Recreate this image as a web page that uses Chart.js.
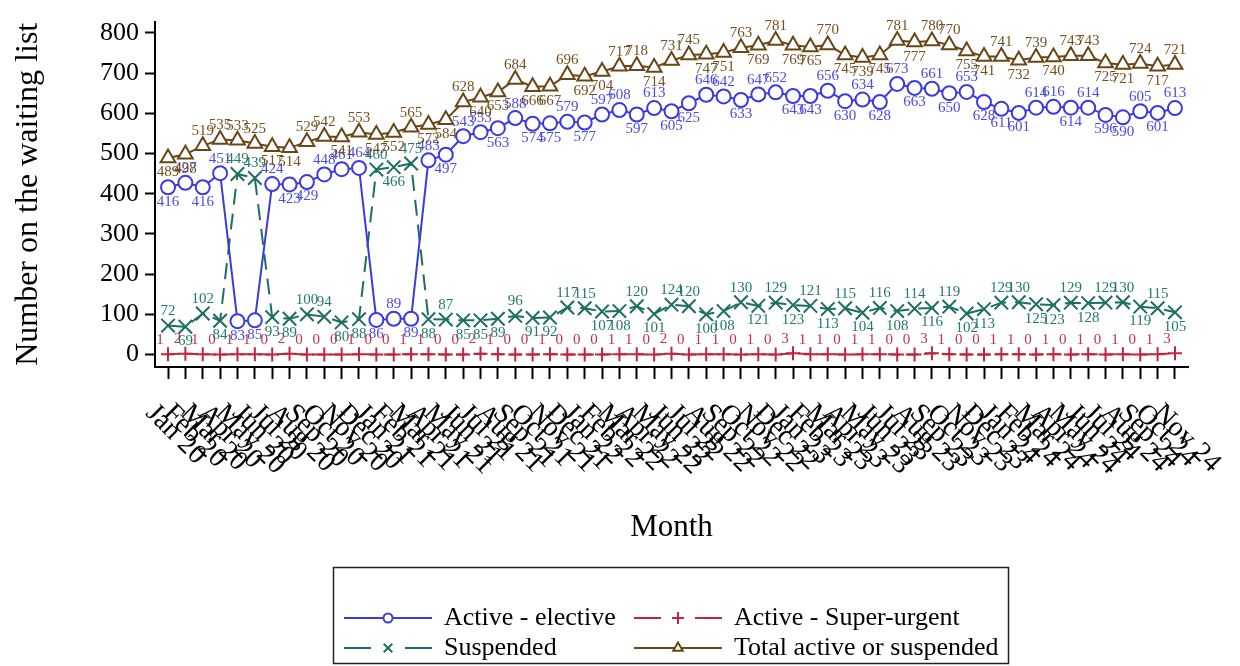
<!DOCTYPE html>
<html>
<head>
<meta charset="utf-8">
<script src="https://cdn.jsdelivr.net/npm/chart.js@4.4.0/dist/chart.umd.min.js"></script>
<style>
  html, body { margin: 0; padding: 0; background: #fff; }
  #wrap { width: 1240px; height: 666px; }
</style>
</head>
<body>
<div id="wrap"><canvas id="waitingList" width="1240" height="666"></canvas></div>
<script>
// month ticks: Jan 2020 .. Nov 2024
const monthNames = ['Jan', 'Feb', 'Mar', 'Apr', 'May', 'Jun', 'Jul', 'Aug', 'Sep', 'Oct', 'Nov', 'Dec'];
const years = ['20', '21', '22', '23', '24'];

const activeElective = [
  416, 427, 416, 451, 83, 85, 424, 423, 429, 448,
  461, 464, 86, 89, 89, 483, 497, 543, 553, 563,
  588, 574, 575, 579, 577, 597, 608, 597, 613, 605,
  625, 646, 642, 633, 647, 652, 643, 643, 656, 630,
  634, 628, 673, 663, 661, 650, 653, 628, 611, 601,
  614, 616, 614, 614, 596, 590, 605, 601, 613
];
const superUrgent = [
  1, 2, 1, 0, 1, 1, 0, 2, 0, 0,
  0, 1, 0, 0, 1, 1, 0, 0, 2, 1,
  0, 0, 1, 0, 0, 0, 1, 1, 0, 2,
  0, 1, 1, 0, 1, 0, 3, 1, 1, 0,
  1, 1, 0, 0, 3, 1, 0, 0, 1, 1,
  0, 1, 0, 1, 0, 1, 0, 1, 3
];
const suspended = [
  72, 69, 102, 84, 449, 439, 93, 89, 100, 94,
  80, 88, 460, 466, 475, 88, 87, 85, 85, 89,
  96, 91, 92, 117, 115, 107, 108, 120, 101, 124,
  120, 100, 108, 130, 121, 129, 123, 121, 113, 115,
  104, 116, 108, 114, 116, 119, 102, 113, 129, 130,
  125, 123, 129, 128, 129, 130, 119, 115, 105
];
const totalActiveSuspended = [
  489, 498, 519, 535, 533, 525, 517, 514, 529, 542,
  541, 553, 547, 552, 565, 572, 584, 628, 640, 653,
  684, 666, 667, 696, 692, 704, 717, 718, 714, 731,
  745, 747, 751, 763, 769, 781, 769, 765, 770, 745,
  739, 745, 781, 777, 780, 770, 755, 741, 741, 732,
  739, 740, 743, 743, 725, 721, 724, 717, 721
];
const yTicks = [0, 100, 200, 300, 400, 500, 600, 700, 800];

const monthLabels = [];
years.forEach(y => monthNames.forEach(m => monthLabels.push(m + ' ' + y)));
monthLabels.length = activeElective.length;

const serif = '"Liberation Serif", "DejaVu Serif", serif';
const toXY = arr => arr.map((v, i) => ({ x: i, y: v }));

// text labels next to every marker, above on peaks and below in dips
const pointLabels = {
  id: 'pointLabels',
  afterDatasetsDraw(chart) {
    const ctx = chart.ctx;
    chart.data.datasets.forEach((ds, di) => {
      const meta = chart.getDatasetMeta(di);
      const vals = ds.data.map(d => d.y);
      ctx.save();
      ctx.font = '15px ' + serif;
      ctx.fillStyle = ds.labelColor;
      ctx.textAlign = 'center';
      meta.data.forEach((pt, i) => {
        const v = vals[i];
        let above = true;
        if (!ds.labelAbove) {
          const prev = i > 0 ? vals[i - 1] : v;
          const next = i < vals.length - 1 ? vals[i + 1] : v;
          above = v >= (prev + next) / 2;
        }
        ctx.textBaseline = above ? 'bottom' : 'top';
        ctx.fillText(String(v), pt.x + (ds.labelShift || 0), above ? pt.y - 7 : pt.y + 7);
      });
      ctx.restore();
    });
  }
};

// slanted month labels, titles and the legend box
const decorations = {
  id: 'decorations',
  afterDraw(chart) {
    const ctx = chart.ctx;
    const xs = chart.scales.x;
    const area = chart.chartArea;

    ctx.save();
    ctx.fillStyle = '#000';
    ctx.font = '28px ' + serif;
    ctx.textAlign = 'left';
    ctx.textBaseline = 'middle';
    monthLabels.forEach((lab, i) => {
      ctx.save();
      ctx.translate(xs.getPixelForValue(i) - 18, 409);
      ctx.rotate(Math.PI / 4);
      ctx.fillText(lab, 0, 0);
      ctx.restore();
    });

    ctx.font = '31px ' + serif;
    ctx.textAlign = 'center';
    ctx.fillText('Month', (area.left + area.right) / 2, 528);

    ctx.save();
    ctx.font = '32px ' + serif;
    ctx.translate(29, (area.top + area.bottom) / 2);
    ctx.rotate(-Math.PI / 2);
    ctx.fillText('Number on the waiting list', 0, 0);
    ctx.restore();

    // legend
    ctx.strokeStyle = '#222';
    ctx.lineWidth = 1.5;
    ctx.strokeRect(333.5, 567.5, 675, 96);
    const entries = [
      { ds: 0, x: 344, y: 618, r: 4.5, text: 'Active - elective' },
      { ds: 1, x: 634, y: 618, r: 6, text: 'Active - Super-urgent' },
      { ds: 2, x: 344, y: 648, r: 6, text: 'Suspended' },
      { ds: 3, x: 634, y: 648, r: 5.5, text: 'Total active or suspended' }
    ];
    ctx.font = '26px ' + serif;
    ctx.textAlign = 'left';
    entries.forEach(e => {
      const ds = chart.data.datasets[e.ds];
      ctx.save();
      ctx.strokeStyle = ds.borderColor;
      ctx.lineWidth = 2;
      ctx.setLineDash(ds.borderDash && ds.borderDash.length ? [27, 34] : []);
      ctx.beginPath();
      ctx.moveTo(e.x, e.y);
      ctx.lineTo(e.x + 88, e.y);
      ctx.stroke();
      ctx.setLineDash([]);
      ctx.fillStyle = '#fff';
      ctx.strokeStyle = ds.borderColor;
      ctx.lineWidth = 2;
      Chart.helpers.drawPoint(ctx, { pointStyle: ds.pointStyle, radius: e.r, borderWidth: 2 }, e.x + 44, e.y);
      ctx.restore();
      ctx.fillStyle = '#000';
      ctx.fillText(e.text, e.x + 100, e.y);
    });
    ctx.restore();
  }
};

const ctx = document.getElementById('waitingList').getContext('2d');
new Chart(ctx, {
  type: 'line',
  data: {
    datasets: [
      {
        label: 'Active - elective',
        data: toXY(activeElective),
        borderColor: '#3a3ae0',
        backgroundColor: '#ffffff',
        labelColor: '#4b4be8',
        borderWidth: 2,
        pointStyle: 'circle',
        pointRadius: 7,
        pointBorderWidth: 2,
        pointBackgroundColor: '#ffffff',
        borderDash: []
      },
      {
        label: 'Active - Super-urgent',
        data: toXY(superUrgent),
        borderColor: '#c0243e',
        backgroundColor: '#c0243e',
        labelColor: '#c8304a',
        labelAbove: true,
        labelShift: -8,
        borderWidth: 2,
        pointStyle: 'cross',
        pointRadius: 7,
        pointBorderWidth: 2,
        borderDash: [12, 6]
      },
      {
        label: 'Suspended',
        data: toXY(suspended),
        borderColor: '#1b6e60',
        backgroundColor: '#1b6e60',
        labelColor: '#237a6a',
        borderWidth: 2,
        pointStyle: 'crossRot',
        pointRadius: 9.5,
        pointBorderWidth: 2,
        borderDash: [16, 9]
      },
      {
        label: 'Total active or suspended',
        data: toXY(totalActiveSuspended),
        borderColor: '#6a4516',
        backgroundColor: '#ffffff',
        labelColor: '#74501e',
        borderWidth: 2,
        pointStyle: 'triangle',
        pointRadius: 8.5,
        pointBorderWidth: 2,
        pointBackgroundColor: '#ffffff',
        borderDash: []
      }
    ]
  },
  options: {
    responsive: false,
    animation: false,
    devicePixelRatio: 1,
    layout: { padding: { top: 10, right: 52, left: 0, bottom: 0 } },
    plugins: {
      legend: { display: false },
      tooltip: { enabled: false }
    },
    elements: { line: { tension: 0 } },
    scales: {
      x: {
        type: 'linear',
        min: -0.75,
        max: activeElective.length - 0.25,
        afterBuildTicks: scale => {
          scale.ticks = monthLabels.map((m, i) => ({ value: i }));
        },
        afterFit: scale => { scale.height = 666 - 367; },
        ticks: { display: false },
        grid: {
          drawOnChartArea: false,
          drawTicks: true,
          tickLength: 12,
          tickColor: '#000',
          tickWidth: 2
        },
        border: { color: '#000', width: 2 }
      },
      y: {
        min: -31,
        max: 828,
        afterBuildTicks: scale => {
          scale.ticks = yTicks.map(v => ({ value: v }));
        },
        afterFit: scale => { scale.width = 155; },
        ticks: {
          color: '#000',
          font: { family: serif, size: 26 },
          padding: 6
        },
        grid: {
          drawOnChartArea: false,
          drawTicks: true,
          tickLength: 10,
          tickColor: '#000',
          tickWidth: 2
        },
        border: { color: '#000', width: 2 }
      }
    }
  },
  plugins: [pointLabels, decorations]
});
</script>
</body>
</html>
